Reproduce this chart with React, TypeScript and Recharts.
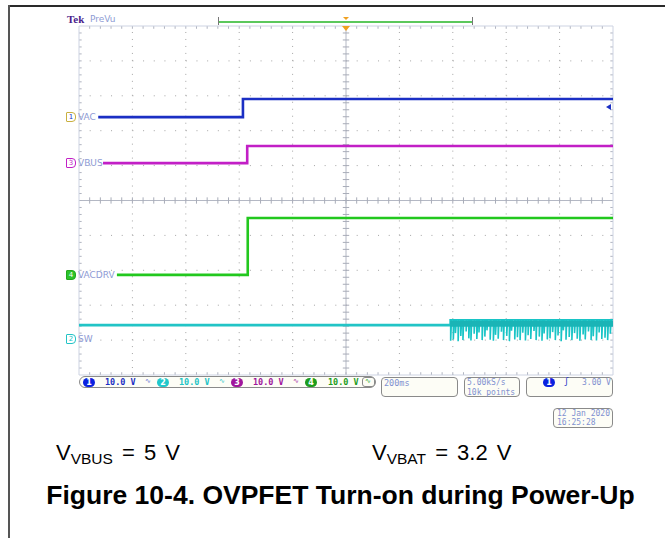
import React from 'react';
import { LineChart, Line, XAxis, YAxis, ReferenceLine } from 'recharts';

// scope screen: 10 x 10 divisions, values are in divisions from the bottom-left
const vacX = [0.36, 3.07, 3.07, 10];
const vacV = [7.39, 7.39, 7.91, 7.91];

const vbusX = [0.45, 3.15, 3.15, 10];
const vbusV = [6.07, 6.07, 6.56, 6.56];

const vacdrvX = [0.71, 3.16, 3.16, 10];
const vacdrvV = [2.87, 2.87, 4.5, 4.5];

const swX = [0, 6.95, 6.95];
const swV = [1.43, 1.43, 1.58];
const swTop = 1.58;
const swSpikeX = [
  6.96, 7.01, 7.05, 7.1, 7.15, 7.19, 7.25, 7.3, 7.34, 7.4, 7.45, 7.49, 7.55, 7.6, 7.64,
  7.7, 7.76, 7.8, 7.85, 7.91, 7.95, 8.01, 8.06, 8.1, 8.16, 8.21, 8.26, 8.31, 8.36, 8.41,
  8.46, 8.52, 8.56, 8.62, 8.67, 8.71, 8.77, 8.82, 8.87, 8.92, 8.97, 9.03, 9.07, 9.12, 9.18,
  9.23, 9.28, 9.33, 9.38, 9.44, 9.48, 9.54, 9.59, 9.63, 9.69, 9.74, 9.79, 9.85, 9.9, 9.95,
];
const swSpikeLow = [
  0.98, 1.02, 1.2, 0.97, 1.12, 1.0, 1.25, 1.05, 0.99, 1.18, 1.03, 1.22, 1.0, 1.1, 1.28,
  1.01, 0.98, 1.15, 1.04, 1.24, 1.0, 1.12, 0.97, 1.27, 1.02, 1.08, 1.0, 1.21, 0.99, 1.14,
  1.03, 1.26, 1.0, 1.1, 0.98, 1.19, 1.02, 1.05, 1.23, 1.0, 1.13, 0.97, 1.28, 1.01, 1.09,
  1.0, 1.2, 1.04, 0.98, 1.16, 1.02, 1.25, 1.0, 1.11, 0.99, 1.22, 1.03, 1.07, 1.0, 1.18,
];

const divLines = [1, 2, 3, 4, 6, 7, 8, 9];
const minorSteps = Array.from({ length: 49 }, (_, i) => (i + 1) * 0.2);

const pts = (xs: number[], vs: number[]) => xs.map((x, i) => ({ x, v: vs[i] }));

const swData = (() => {
  const d = pts(swX, swV);
  swSpikeX.forEach((x, i) => {
    d.push({ x, v: swTop });
    d.push({ x, v: swSpikeLow[i] });
    d.push({ x: x + 0.015, v: swTop });
  });
  d.push({ x: 10, v: swTop });
  return d;
})();

const mono = '"DejaVu Sans Mono", monospace';
const sans = '"DejaVu Sans", sans-serif';
const arial = '"Liberation Sans", Arial, sans-serif';
const labelColor = '#8e9bd4';

const abs = (left: number, top: number, extra: React.CSSProperties = {}): React.CSSProperties => ({
  position: 'absolute',
  left,
  top,
  whiteSpace: 'nowrap',
  lineHeight: 1,
  ...extra,
});

const Badge = ({ x, y, n, bg }: { x: number; y: number; n: string; bg: string }) => (
  <div
    style={abs(x, y, {
      width: 12,
      height: 9,
      borderRadius: 5,
      background: bg,
      color: '#fff',
      fontFamily: sans,
      fontSize: 8,
      fontWeight: 'bold',
      textAlign: 'center',
      lineHeight: '9px',
    })}
  >
    {n}
  </div>
);

const ChTag = ({ x, y, n, border, fill, color, text }: any) => (
  <div style={abs(x, y, { display: 'flex', alignItems: 'center' })}>
    <div
      style={{
        width: 8,
        height: 8,
        border: `1px solid ${border}`,
        borderRadius: '1px 4px 4px 1px',
        background: fill,
        color,
        fontFamily: sans,
        fontSize: 7,
        textAlign: 'center',
        lineHeight: '8px',
      }}
    >
      {n}
    </div>
    <span style={{ marginLeft: 2, color: labelColor, fontFamily: sans, fontSize: 9 }}>{text}</span>
  </div>
);

const boxStyle: React.CSSProperties = {
  border: '1px solid #8a8a8a',
  borderRadius: 4,
  background: '#fdfdf6',
  boxSizing: 'border-box',
};

export default function App() {
  return (
    <div style={{ position: 'absolute', left: 0, top: 0, width: 665, height: 538, background: '#fff', overflow: 'hidden' }}>
      {/* page frame */}
      <div style={abs(8, 5, { width: 657, height: 2, background: '#2a2a2a' })} />
      <div style={abs(8, 5, { width: 1.5, height: 533, background: '#555' })} />

      <div style={abs(0, 0)}>
        <LineChart width={665} height={538} margin={{ top: 26, right: 52, bottom: 163, left: 79 }}>
          <XAxis dataKey="x" type="number" domain={[0, 10]} hide allowDataOverflow />
          <YAxis type="number" domain={[0, 10]} hide allowDataOverflow />
          {divLines.map((d) => (
            <ReferenceLine key={'gx' + d} x={d} stroke="#a4a4a4" strokeDasharray="1 5.98" />
          ))}
          {divLines.map((d) => (
            <ReferenceLine key={'gy' + d} y={d} stroke="#a4a4a4" strokeDasharray="1 9.68" />
          ))}
          <ReferenceLine x={5} stroke="#b4b8c4" />
          <ReferenceLine y={5} stroke="#b4b8c4" />
          {minorSteps.map((s) => (
            <ReferenceLine key={'tx' + s} segment={[{ x: s, y: 4.91 }, { x: s, y: 5.09 }]} stroke="#a8acb8" />
          ))}
          {minorSteps.map((s) => (
            <ReferenceLine key={'ty' + s} segment={[{ x: 4.94, y: s }, { x: 5.06, y: s }]} stroke="#a8acb8" />
          ))}
          {minorSteps.map((s) => (
            <ReferenceLine key={'bt' + s} segment={[{ x: s, y: 10 }, { x: s, y: 9.92 }]} stroke="#b0b4c0" />
          ))}
          {minorSteps.map((s) => (
            <ReferenceLine key={'bb' + s} segment={[{ x: s, y: 0 }, { x: s, y: 0.08 }]} stroke="#b0b4c0" />
          ))}
          {minorSteps.map((s) => (
            <ReferenceLine key={'bl' + s} segment={[{ x: 0, y: s }, { x: 0.05, y: s }]} stroke="#b0b4c0" />
          ))}
          {minorSteps.map((s) => (
            <ReferenceLine key={'br' + s} segment={[{ x: 10, y: s }, { x: 9.95, y: s }]} stroke="#b0b4c0" />
          ))}
          <ReferenceLine x={0} stroke="#cdd3e2" />
          <ReferenceLine x={10} stroke="#cdd3e2" />
          <ReferenceLine y={0} stroke="#cdd3e2" />
          <ReferenceLine y={10} stroke="#cdd3e2" />

          <Line data={pts(vacX, vacV)} dataKey="v" type="linear" stroke="#1b2fc4" strokeWidth={2.6} dot={false} isAnimationActive={false} />
          <Line data={pts(vbusX, vbusV)} dataKey="v" type="linear" stroke="#c21fc6" strokeWidth={2.6} dot={false} isAnimationActive={false} />
          <Line data={pts(vacdrvX, vacdrvV)} dataKey="v" type="linear" stroke="#22c81e" strokeWidth={2.6} dot={false} isAnimationActive={false} />
          <Line data={swData} dataKey="v" type="linear" stroke="#18c4c6" strokeWidth={1.6} dot={false} isAnimationActive={false} />
          <Line data={pts([0, 6.95], [1.43, 1.43])} dataKey="v" type="linear" stroke="#22c4c6" strokeWidth={2.6} dot={false} isAnimationActive={false} />
          <Line data={pts([6.95, 10], [1.47, 1.47])} dataKey="v" type="linear" stroke="#1ab4b6" strokeWidth={6} dot={false} isAnimationActive={false} />
        </LineChart>
      </div>

      {/* top header */}
      <div style={abs(67, 14, { fontFamily: '"Liberation Serif", serif', fontWeight: 'bold', fontSize: 11, color: '#4b1e8c' })}>Tek</div>
      <div style={abs(90, 15, { fontFamily: sans, fontSize: 9, color: labelColor })}>PreVu</div>
      <div style={abs(219, 21, { width: 254, height: 1.5, background: '#5cc85c' })} />
      <div style={abs(218, 17, { width: 1, height: 8, background: '#777' })} />
      <div style={abs(472, 17, { width: 1, height: 8, background: '#777' })} />
      <div style={abs(343, 17, { width: 0, height: 0, borderLeft: '3px solid transparent', borderRight: '3px solid transparent', borderTop: '3px solid #f0a020' })} />
      <div style={abs(342, 26, { width: 0, height: 0, borderLeft: '4px solid transparent', borderRight: '4px solid transparent', borderTop: '5px solid #f0a020' })} />
      {/* trigger level marker */}
      <div style={abs(606, 104, { width: 0, height: 0, borderTop: '3.5px solid transparent', borderBottom: '3.5px solid transparent', borderRight: '5px solid #1b2fc4' })} />

      {/* channel labels */}
      <ChTag x={66} y={112} n="1" border="#c9b040" fill="#fff" color="#1b2fc4" text="VAC" />
      <ChTag x={66} y={158} n="3" border="#c21fc6" fill="#fff" color="#c21fc6" text="VBUS" />
      <ChTag x={66} y={270} n="4" border="#22a81e" fill="#2cc42a" color="#fff" text="VACDRV" />
      <ChTag x={66} y={334} n="2" border="#22c4c6" fill="#fff" color="#22c4c6" text="SW" />

      {/* status bar */}
      <div style={{ ...abs(79, 376), ...boxStyle, width: 297, height: 12, borderRadius: 6 }} />
      <Badge x={83} y={378} n="1" bg="#0b22e0" />
      <div style={abs(105, 378, { fontFamily: mono, fontSize: 8.5, fontWeight: 'bold', color: '#1b2fc4' })}>10.0 V</div>
      <div style={abs(145, 378, { fontFamily: mono, fontSize: 7, color: '#5a6ad0' })}>∿</div>
      <Badge x={157} y={378} n="2" bg="#20c8cc" />
      <div style={abs(179, 378, { fontFamily: mono, fontSize: 8.5, fontWeight: 'bold', color: '#22c4c6' })}>10.0 V</div>
      <div style={abs(219, 378, { fontFamily: mono, fontSize: 7, color: '#22c4c6' })}>∿</div>
      <Badge x={231} y={378} n="3" bg="#a0169c" />
      <div style={abs(253, 378, { fontFamily: mono, fontSize: 8.5, fontWeight: 'bold', color: '#a0169c' })}>10.0 V</div>
      <div style={abs(293, 378, { fontFamily: mono, fontSize: 7, color: '#a0169c' })}>∿</div>
      <Badge x={305} y={378} n="4" bg="#1c9c1c" />
      <div style={abs(328, 378, { fontFamily: mono, fontSize: 8.5, fontWeight: 'bold', color: '#1c9c1c' })}>10.0 V</div>
      <div style={{ ...abs(362, 377), ...boxStyle, width: 13, height: 10, borderRadius: 3 }} />
      <div style={abs(365, 378, { fontFamily: mono, fontSize: 7, color: '#22a81e' })}>∿</div>

      <div style={{ ...abs(381, 377), ...boxStyle, width: 77, height: 20 }} />
      <div style={abs(384, 379, { fontFamily: mono, fontSize: 8.5, color: '#7f90d0' })}>200ms</div>

      <div style={{ ...abs(464, 377), ...boxStyle, width: 56, height: 20 }} />
      <div style={abs(467, 379, { fontFamily: mono, fontSize: 8, color: '#7f90d0' })}>5.00kS/s</div>
      <div style={abs(467, 389, { fontFamily: mono, fontSize: 8, color: '#7f90d0' })}>10k points</div>

      <div style={{ ...abs(526, 377), ...boxStyle, width: 87, height: 20 }} />
      <Badge x={543} y={378} n="1" bg="#0b22e0" />
      <div style={abs(564, 378, { fontFamily: mono, fontSize: 8, color: '#1b2fc4' })}>ʃ</div>
      <div style={abs(582, 379, { fontFamily: mono, fontSize: 8, color: '#7f90d0' })}>3.00 V</div>

      <div style={{ ...abs(553, 408), ...boxStyle, width: 60, height: 20 }} />
      <div style={abs(557, 410, { fontFamily: mono, fontSize: 8, color: '#7f90d0' })}>12 Jan  2020</div>
      <div style={abs(557, 419, { fontFamily: mono, fontSize: 8, color: '#7f90d0' })}>16:25:28</div>

      {/* figure text */}
      <div style={abs(56, 442, { fontFamily: arial, fontSize: 22, wordSpacing: 3, color: '#000' })}>
        V<sub style={{ fontSize: 15.5, verticalAlign: '-4px' }}>VBUS</sub> = 5 V
      </div>
      <div style={abs(372, 442, { fontFamily: arial, fontSize: 22, wordSpacing: 3, color: '#000' })}>
        V<sub style={{ fontSize: 15.5, verticalAlign: '-4px' }}>VBAT</sub> = 3.2 V
      </div>
      <div style={abs(0, 482, { width: 681, textAlign: 'center', fontFamily: arial, fontWeight: 'bold', fontSize: 26.5, color: '#000' })}>
        Figure 10-4. OVPFET Turn-on during Power-Up
      </div>
    </div>
  );
}
